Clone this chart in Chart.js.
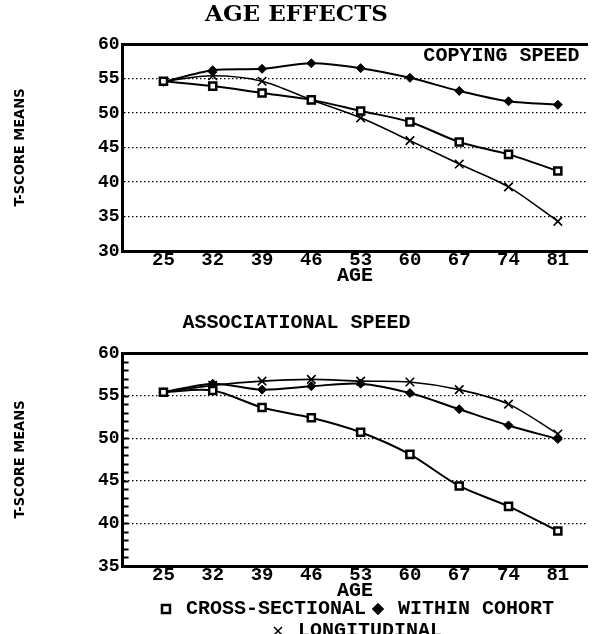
<!DOCTYPE html>
<html>
<head>
<meta charset="utf-8">
<script src="https://cdn.jsdelivr.net/npm/chart.js@4.4.1/dist/chart.umd.min.js"></script>
<style>
html, body { margin: 0; padding: 0; background: #fff; overflow: hidden; }
#wrap1 { position: absolute; left: 0; top: 0; width: 595px; height: 292px; }
#wrap2 { position: absolute; left: 0; top: 292px; width: 595px; height: 359px; }
</style>
</head>
<body>
<div id="wrap1"><canvas id="copyChart"></canvas></div>
<div id="wrap2"><canvas id="assocChart"></canvas></div>
<script>
// ages on the x axis (also the tick labels)
const AGES = [25, 32, 39, 46, 53, 60, 67, 74, 81];
const SERIES_NAMES = ['CROSS-SECTIONAL', 'WITHIN COHORT', 'LONGITUDINAL'];

// copying speed, T-score means
const COPY_CROSS  = [54.6, 53.9, 52.9, 51.9, 50.3, 48.7, 45.8, 44.0, 41.6];
const COPY_WITHIN = [54.5, 56.2, 56.4, 57.2, 56.5, 55.1, 53.2, 51.7, 51.2];
const COPY_LONG   = [54.6, 55.4, 54.6, 51.9, 49.3, 46.0, 42.6, 39.3, 34.3];

// associational speed, T-score means
const ASSOC_CROSS  = [55.4, 55.6, 53.6, 52.4, 50.7, 48.1, 44.4, 42.0, 39.1];
const ASSOC_WITHIN = [55.4, 56.4, 55.7, 56.1, 56.4, 55.3, 53.4, 51.5, 49.9];
const ASSOC_LONG   = [55.4, 56.2, 56.7, 56.9, 56.7, 56.6, 55.7, 54.0, 50.5];

const MONO = "'Liberation Mono', 'DejaVu Sans Mono', monospace";
const NARROW = "'Liberation Sans Narrow', 'DejaVu Sans Condensed', 'Liberation Sans', sans-serif";

Chart.defaults.color = '#000';
Chart.defaults.font.family = MONO;
Chart.defaults.font.weight = 'bold';
Chart.defaults.animation = false;

function makeSets(cross, within, longi) {
  return [
    {
      label: SERIES_NAMES[0], data: cross,
      borderColor: '#000', borderWidth: 2, tension: 0.3,
      pointStyle: 'rect', pointRadius: 5, pointBorderWidth: 2.5,
      pointBackgroundColor: '#fff', pointBorderColor: '#000'
    },
    {
      label: SERIES_NAMES[1], data: within,
      borderColor: '#000', borderWidth: 2, tension: 0.3,
      pointStyle: 'rectRot', pointRadius: 4.5, pointBorderWidth: 1,
      pointBackgroundColor: '#000', pointBorderColor: '#000'
    },
    {
      label: SERIES_NAMES[2], data: longi,
      borderColor: '#000', borderWidth: 1.6, tension: 0.3,
      pointStyle: 'crossRot', pointRadius: 6, pointBorderWidth: 1.6,
      pointBackgroundColor: '#000', pointBorderColor: '#000'
    }
  ];
}

function makeScales(yMin, yMax) {
  return {
    x: {
      type: 'linear', min: 19.2, max: 85.2,
      afterBuildTicks: (s) => { s.ticks = AGES.map(v => ({ value: v })); },
      grid: { drawOnChartArea: false, drawTicks: false },
      border: { width: 3, color: '#000' },
      ticks: { padding: 1, font: { size: 19, lineHeight: '16px' } },
      title: { display: true, text: 'AGE', padding: { top: 1, bottom: 0 }, font: { size: 20, lineHeight: '12px' } }
    },
    xTop: {
      type: 'linear', position: 'top', display: true,
      grid: { drawOnChartArea: false, drawTicks: false },
      border: { width: 3, color: '#000' },
      ticks: { display: false }
    },
    y: {
      min: yMin, max: yMax,
      ticks: { stepSize: 5, padding: 3, font: { size: 18 } },
      grid: { color: '#000', lineWidth: 1.2, drawTicks: false },
      border: { width: 3, color: '#000', dash: [1.5, 2.5] },
      title: {
        display: true, text: 'T-SCORE MEANS',
        padding: { top: 12, bottom: 67 },
        font: { family: NARROW, size: 14.5, lineHeight: '16px' }
      }
    }
  };
}

// "COPYING SPEED" sits inside the top right of the first plot
const cornerLabel = {
  id: 'cornerLabel',
  afterDraw(chart) {
    const { ctx, chartArea } = chart;
    ctx.save();
    ctx.font = "bold 20px " + MONO;
    ctx.fillStyle = '#000';
    ctx.textAlign = 'right';
    ctx.textBaseline = 'middle';
    ctx.fillText('COPYING SPEED', chartArea.right - 8, chartArea.top + 12);
    ctx.restore();
  }
};

// short unit ticks on the inside of the left axis (second plot)
const minorTicks = {
  id: 'minorTicks',
  afterDraw(chart) {
    const { ctx, chartArea } = chart;
    const y = chart.scales.y;
    ctx.save();
    ctx.strokeStyle = '#000';
    ctx.lineWidth = 2;
    for (let v = y.min + 1; v < y.max; v++) {
      const py = Math.round(y.getPixelForValue(v)) + 0.5;
      ctx.beginPath();
      ctx.moveTo(chartArea.left, py);
      ctx.lineTo(chartArea.left + 6, py);
      ctx.stroke();
    }
    ctx.restore();
  }
};

new Chart(document.getElementById('copyChart'), {
  type: 'line',
  data: { labels: AGES, datasets: makeSets(COPY_CROSS, COPY_WITHIN, COPY_LONG) },
  options: {
    responsive: true, maintainAspectRatio: false,
    layout: { padding: { left: 0, right: 2, top: 0, bottom: 10 } },
    scales: makeScales(30, 60),
    plugins: {
      legend: { display: false },
      tooltip: { enabled: false },
      title: {
        display: true, text: 'AGE EFFECTS',
        padding: { top: 2, bottom: 16 },
        font: { family: "'DejaVu Serif', 'Liberation Serif', serif", size: 23, weight: 'bold', lineHeight: '26px' }
      }
    }
  },
  plugins: [cornerLabel]
});

new Chart(document.getElementById('assocChart'), {
  type: 'line',
  data: { labels: AGES, datasets: makeSets(ASSOC_CROSS, ASSOC_WITHIN, ASSOC_LONG) },
  options: {
    responsive: true, maintainAspectRatio: false,
    layout: { padding: { left: 0, right: 2, top: 0, bottom: 0 } },
    scales: makeScales(35, 60),
    plugins: {
      tooltip: { enabled: false },
      title: {
        display: true, text: 'ASSOCIATIONAL SPEED',
        padding: { top: 20, bottom: 19 },
        font: { size: 20, lineHeight: '22px' }
      },
      legend: {
        position: 'bottom', align: 'center', fullSize: false,
        labels: { usePointStyle: true, boxWidth: 20, boxHeight: 8, padding: 2, font: { size: 20 } }
      }
    }
  },
  plugins: [minorTicks]
});
</script>
</body>
</html>
